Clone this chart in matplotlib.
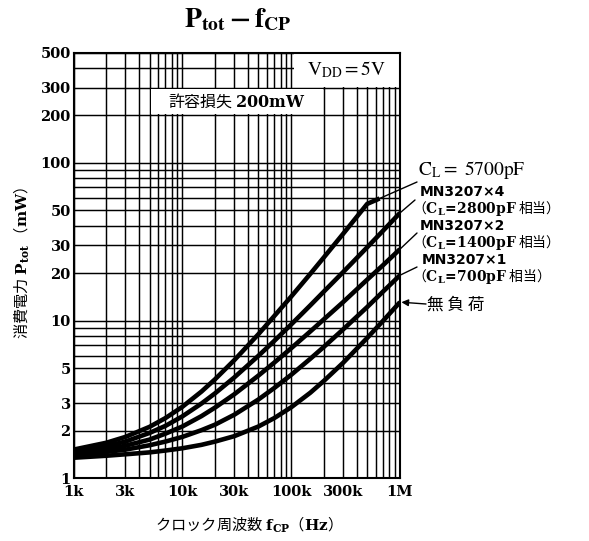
import matplotlib
matplotlib.use('Agg')
import matplotlib.pyplot as plt
from matplotlib.patches import Rectangle
from matplotlib.ticker import LogLocator

plt.rcParams['font.family'] = ['Noto Sans CJK JP', 'DejaVu Sans']
plt.rcParams['mathtext.fontset'] = 'custom'
plt.rcParams['mathtext.rm'] = 'Noto Sans CJK JP'
plt.rcParams['mathtext.bf'] = 'DejaVu Serif:bold'
plt.rcParams['mathtext.it'] = 'DejaVu Serif:italic'

# clock frequency (Hz) and power (mW)
freq = [1e3, 2e3, 3e3, 5e3, 7e3, 10e3, 15e3, 20e3, 30e3, 50e3, 70e3,
        100e3, 150e3, 200e3, 300e3, 500e3, 700e3, 1e6]
freq_5700 = [1e3, 2e3, 3e3, 5e3, 7e3, 10e3, 15e3, 20e3, 30e3, 50e3, 70e3,
             100e3, 150e3, 200e3, 300e3, 500e3, 650e3]
p_5700 = [1.52, 1.68, 1.83, 2.12, 2.41, 2.84, 3.55, 4.25, 5.61, 8.2, 10.7,
          14.2, 19.8, 25.2, 35.5, 55.0, 59.5]
p_x4 = [1.47, 1.60, 1.71, 1.94, 2.15, 2.47, 2.98, 3.46, 4.36, 5.98, 7.44,
        9.45, 12.5, 15.3, 20.3, 29.2, 37.2, 48.2]
p_x2 = [1.43, 1.52, 1.61, 1.76, 1.92, 2.13, 2.48, 2.81, 3.41, 4.48, 5.42,
        6.68, 8.54, 10.2, 13.1, 18.2, 22.5, 28.4]
p_x1 = [1.40, 1.47, 1.52, 1.62, 1.71, 1.83, 2.02, 2.19, 2.53, 3.16, 3.74,
        4.53, 5.73, 6.82, 8.79, 12.2, 15.3, 19.4]
p_noload = [1.35, 1.39, 1.42, 1.46, 1.50, 1.55, 1.63, 1.71, 1.85, 2.13, 2.41,
            2.82, 3.49, 4.15, 5.40, 7.77, 9.98, 13.1]

xticks = [1e3, 3e3, 1e4, 3e4, 1e5, 3e5, 1e6]
xlabels = ['1k', '3k', '10k', '30k', '100k', '300k', '1M']
yticks = [1, 2, 3, 5, 10, 20, 30, 50, 100, 200, 300, 500]
ylabels = ['1', '2', '3', '5', '10', '20', '30', '50', '100', '200', '300', '500']

W, H = 589, 541
def fx(px):
    return px / W
def fy(py):
    return 1 - py / H

fig = plt.figure(figsize=(5.89, 5.41), dpi=100)
ax = fig.add_axes([fx(73.5), fy(478.3), 326.5 / W, 425.6 / H])
ax.set_xscale('log')
ax.set_yscale('log')
ax.set_xlim(1e3, 1e6)
ax.set_ylim(1, 500)

ax.xaxis.set_minor_locator(LogLocator(base=10, subs=range(2, 10)))
ax.yaxis.set_minor_locator(LogLocator(base=10, subs=range(2, 10)))
ax.set_xticks(xticks, labels=xlabels, fontfamily='DejaVu Serif',
              fontweight='bold', fontsize=10.5)
ax.set_yticks(yticks, labels=ylabels, fontfamily='DejaVu Serif',
              fontweight='bold', fontsize=10.5)
ax.tick_params(which='both', length=0)
ax.tick_params(axis='x', pad=5)
ax.tick_params(axis='y', pad=2)
ax.set_axisbelow(True)
ax.grid(which='both', color='black', lw=1.05)
for s in ax.spines.values():
    s.set_linewidth(1.5)

# white boxes behind the notes
ax.add_patch(Rectangle((5.1e3, 203), 196e3 - 5.1e3, 296 - 203,
                       facecolor='white', edgecolor='none', zorder=1))
ax.add_patch(Rectangle((106e3, 304), 1e6 - 106e3, 500 - 304,
                       facecolor='white', edgecolor='none', zorder=1))
ax.text(31.6e3, 246, '許容損失 $\\mathbf{200mW}$', ha='center', va='center',
        fontsize=11.5, zorder=4)
ax.text(0.838, 0.959, r'$\mathrm{V_{DD}=5V}$', transform=ax.transAxes,
        math_fontfamily='stix', ha='center', va='center', fontsize=14, zorder=4)

curves = [(freq_5700, p_5700), (freq, p_x4), (freq, p_x2), (freq, p_x1), (freq, p_noload)]
for fr, p in curves:
    ax.plot(fr, p, color='black', lw=3.3, solid_capstyle='butt',
            solid_joinstyle='round', zorder=3)

# labels on the right
fig.text(fx(418), fy(170), r'$\mathrm{C_L=\ 5700pF}$', math_fontfamily='stix',
         fontsize=14, va='center', ha='left')
fig.text(fx(420), fy(192), 'MN3207×4', family='DejaVu Sans', fontweight='bold',
         fontsize=10, va='center')
fig.text(fx(412), fy(209), '（$\\mathbf{C_L\\!=\\!2800pF}$ 相当）', fontsize=10, va='center')
fig.text(fx(420), fy(226), 'MN3207×2', family='DejaVu Sans', fontweight='bold',
         fontsize=10, va='center')
fig.text(fx(412), fy(243), '（$\\mathbf{C_L\\!=\\!1400pF}$ 相当）', fontsize=10, va='center')
fig.text(fx(422), fy(260), 'MN3207×1', family='DejaVu Sans', fontweight='bold',
         fontsize=10, va='center')
fig.text(fx(412), fy(277), '（$\\mathbf{C_L\\!=\\!700pF}$ 相当）', fontsize=10, va='center')
fig.text(fx(427), fy(305), '無 負 荷', fontsize=12, va='center')

leaders = [(curves[0], 417, 182), (curves[1], 415, 200), (curves[2], 417, 233),
           (curves[3], 417, 267)]
for (fr, p), lx, ly in leaders:
    ax.annotate('', xy=(fr[-1], p[-1]), xycoords='data',
                xytext=(fx(lx), fy(ly)), textcoords='figure fraction',
                arrowprops=dict(arrowstyle='-', color='black', lw=1.0,
                                shrinkA=0, shrinkB=0), annotation_clip=False)
ax.annotate('', xy=(freq[-1], p_noload[-1]), xycoords='data',
            xytext=(fx(426), fy(304)), textcoords='figure fraction',
            arrowprops=dict(arrowstyle='-|>', color='black', lw=1.0,
                            mutation_scale=10, shrinkA=0, shrinkB=1),
            annotation_clip=False)

fig.text(fx(238), fy(19), r'$\mathbf{P_{tot}-f_{CP}}$', math_fontfamily='stix',
         fontsize=20, ha='center', va='center')
fig.text(fx(22), fy(263), '消費電力 $\\mathbf{P_{tot}}$ （$\\mathbf{mW}$）',
         rotation=90, ha='center', va='center', fontsize=11)
fig.text(fx(244), fy(525), 'クロック周波数 $\\mathbf{f_{CP}}$（$\\mathbf{Hz}$）',
         ha='center', va='center', fontsize=11)

fig.savefig('out.png', dpi=100)
